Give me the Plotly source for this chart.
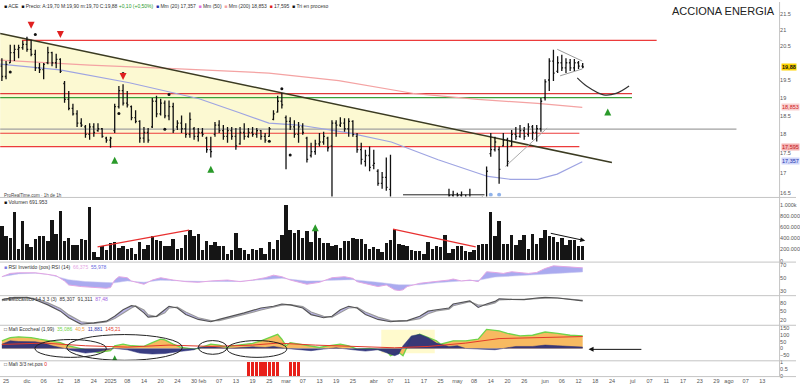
import math
import pandas as pd
import plotly.graph_objects as go

# ------------------------------------------------------------------ data
open_ = [19.90,19.60,20.00,20.30,20.40,20.45,20.55,20.40,20.25,19.85,
         19.80,20.00,20.30,20.00,20.10,19.40,18.95,18.70,18.55,18.30,
         18.20,18.00,18.20,18.10,18.15,17.90,17.85,18.10,18.75,19.20,
         18.85,18.75,18.45,18.35,17.90,18.05,18.20,18.90,18.55,18.85,
         18.50,18.75,18.20,18.30,18.15,18.00,18.15,17.95,18.05,17.90,
         17.60,18.00,18.25,18.10,17.95,18.10,17.95,17.75,18.05,17.95,
         18.05,18.00,18.10,17.95,17.95,18.40,18.60,18.90,18.45,18.35,
         18.20,18.00,18.20,17.90,17.45,17.55,17.75,17.80,17.90,17.70,
         18.30,18.25,18.30,18.15,18.35,17.95,17.60,17.30,17.45,17.20,
         17.05,16.75,16.90,16.60,16.20,16.00,16.10,16.05,15.95,16.05,
         15.90,16.10,15.95,16.05,15.95,16.15,16.05,16.25,16.45,16.20,
         16.45,16.25,16.40,16.30,16.20,16.30,16.40,17.50,17.60,17.60,
         17.70,17.85,17.70,18.00,17.95,18.10,18.00,18.20,18.05,18.15,
         19.00,19.50,20.05,19.75,20.00,19.85,20.00,19.85,20.00,19.90]
high = [20.13,20.05,20.54,20.54,20.54,20.66,20.78,20.69,20.39,19.99,
        19.99,20.48,20.33,20.27,20.13,19.47,19.19,18.83,18.65,18.43,
        18.25,18.30,18.30,18.30,18.17,17.94,17.94,18.83,19.33,19.38,
        19.19,18.78,18.65,18.38,18.20,18.17,18.99,19.05,18.97,18.92,
        18.92,18.86,18.38,18.51,18.30,18.59,18.20,18.17,18.17,17.94,
        17.94,18.33,18.38,18.25,18.20,18.20,18.17,18.20,18.30,18.17,
        18.20,18.17,18.12,18.04,18.20,18.65,19.05,19.13,18.51,18.46,
        18.38,18.33,18.30,17.94,17.78,17.86,18.04,18.07,17.94,18.38,
        18.38,18.46,18.43,18.43,18.38,18.04,17.78,17.60,17.68,17.60,
        17.10,17.03,17.40,17.47,16.38,16.26,16.38,16.26,16.15,16.26,
        16.19,16.26,16.19,16.15,16.26,16.26,16.33,16.62,16.57,16.52,
        16.55,16.47,16.62,16.38,16.38,16.43,17.17,18.04,17.94,17.68,
        18.04,17.91,18.12,18.20,18.25,18.20,18.30,18.25,18.25,18.99,
        19.52,20.13,20.39,20.19,20.24,20.13,20.11,20.11,20.05,19.99]
low = [19.47,19.52,19.99,20.05,20.13,20.39,20.33,20.19,19.76,19.70,
       19.52,19.96,19.90,19.84,19.70,18.86,18.65,18.51,18.20,18.20,
       17.91,17.86,17.94,18.07,17.91,17.78,17.65,18.04,18.70,18.78,
       18.73,18.38,18.30,17.78,17.78,17.78,18.17,18.46,18.51,18.43,
       18.38,18.04,18.12,18.04,17.91,17.91,17.86,17.81,17.94,17.52,
       17.40,17.94,18.04,17.86,17.78,17.86,17.60,17.73,17.86,17.91,
       17.94,17.91,17.86,17.78,17.94,18.38,18.59,18.70,17.10,18.12,
       17.91,17.78,17.99,17.27,17.40,17.47,17.68,17.73,17.55,16.30,
       17.94,18.20,18.07,17.94,17.94,17.52,17.22,17.17,17.05,17.10,
       16.69,16.62,16.57,15.82,15.82,15.71,15.93,15.82,15.71,15.82,
       15.75,15.82,15.82,15.75,15.88,15.93,15.97,16.04,16.04,16.11,
       16.15,16.11,16.19,16.04,16.11,16.15,16.26,17.42,17.55,16.74,
       17.68,17.17,17.68,17.86,17.91,17.86,17.94,17.86,17.81,18.07,
       18.92,19.19,19.47,19.70,19.76,19.70,19.76,19.76,19.82,19.84]
close = [19.60,19.95,20.30,20.40,20.45,20.55,20.40,20.25,19.85,19.80,
         19.95,20.30,20.00,20.10,19.75,18.95,18.70,18.55,18.30,18.25,
         18.00,18.20,18.05,18.15,17.95,17.85,17.90,18.75,19.20,18.85,
         18.80,18.45,18.35,17.90,18.05,17.85,18.90,18.55,18.85,18.50,
         18.75,18.10,18.30,18.15,18.00,18.40,17.95,18.05,18.00,17.60,
         17.55,18.25,18.10,17.95,18.10,17.95,17.70,18.05,17.95,18.05,
         18.00,18.10,17.95,17.85,18.15,18.55,18.90,18.80,18.35,18.20,
         18.00,18.20,18.05,17.35,17.55,17.75,17.80,17.95,17.65,18.30,
         18.25,18.30,18.15,18.35,18.00,17.60,17.35,17.45,17.15,17.25,
         16.75,16.90,16.65,16.20,16.00,16.10,16.05,15.95,16.05,15.90,
         16.10,15.95,16.05,15.90,16.15,16.00,16.25,16.45,16.20,16.45,
         16.25,16.40,16.30,16.20,16.30,16.35,17.05,17.60,17.80,17.10,
         17.85,17.30,18.00,17.95,18.10,17.95,18.20,18.05,18.15,18.90,
         19.45,20.05,19.70,20.00,19.85,20.00,19.85,20.00,19.90,19.88]
volume = [610000,430000,410000,880000,210000,710000,300000,230000,380000,430000,
          430000,340000,720000,480000,890000,350000,410000,280000,280000,380000,
          360000,960000,150000,50000,260000,190000,310000,320000,220000,250000,
          200000,220000,120000,320000,200000,270000,430000,360000,350000,260000,
          260000,380000,200000,220000,450000,540000,430000,470000,190000,350000,
          280000,320000,260000,250000,120000,190000,500000,220000,190000,110000,
          200000,180000,220000,120000,320000,200000,370000,460000,990000,550000,
          500000,540000,400000,520000,330000,520000,410000,310000,310000,260000,
          280000,220000,350000,350000,400000,380000,380000,300000,210000,240000,
          200000,150000,310000,370000,560000,300000,280000,260000,180000,170000,
          170000,110000,320000,200000,260000,240000,460000,130000,200000,260000,
          260000,170000,150000,190000,280000,300000,300000,870000,430000,710000,
          300000,300000,460000,280000,360000,450000,200000,470000,300000,400000,
          540000,430000,420000,320000,400000,280000,370000,370000,260000,260000]

# moving averages (knots: bar index, price)
ma_pink_idx = [-0.4, 21, 42.5, 63.9, 80.6, 98.9, 113.9, 128.2, 138.9]
ma_pink_val = [20.08, 19.93, 19.82, 19.70, 19.48, 19.11, 18.95, 18.84, 18.73]
ma_blue_idx = [-0.4, 13.9, 30.5, 47.2, 56.7, 63.9, 71, 83, 93.2, 104.4, 116.3, 121.7, 128.2, 132.9, 138.9]
ma_blue_val = [19.96, 19.79, 19.42, 18.97, 18.59, 18.30, 18.25, 18.04, 17.80, 17.34, 16.92, 16.85, 16.85, 16.98, 17.29]

# drawn objects on the price panel
trend_idx = [-0.4, 146.0]
trend_val = [20.88, 17.27]
zone_idx = [-0.4, 128.2, -0.4]
zone_val = [20.88, 17.68, 17.68]
hlines = [  # (from idx, to idx, price, colour)
    (4.8, 156.7, 20.67, "#ec3b3b"),
    (-0.4, 150.8, 19.11, "#e03a3a"),
    (-0.4, 150.8, 19.00, "#3aa03a"),
    (-0.4, 175.8, 18.14, "#a0a0a0"),
    (-0.4, 138.2, 18.03, "#ec3b3b"),
    (-0.4, 138.2, 17.68, "#ec3b3b"),
]
arc_idx = [137.7, 140.0, 144.0, 147.0, 150.1]
arc_val = [19.56, 19.32, 19.08, 19.12, 19.33]
tri_up_idx, tri_up_val = [132.9, 138.9], [20.40, 20.05]
tri_lo_idx, tri_lo_val = [133.6, 138.9], [19.62, 19.82]
chan_idx, chan_val = [120.5, 130.5], [17.17, 18.17]
base_idx, base_val = [96.0, 115.5], [16.47, 16.47]

dots_idx = [2, 8, 28, 39, 40, 64, 67, 69, 29]
dots_val = [19.73, 20.85, 18.56, 18.14, 19.09, 17.82, 19.25, 17.46, 19.69]
red_arrow_idx = [7, 14, 29]
red_arrow_val = [21.03, 20.74, 19.50]
green_arrow_idx = [27, 50, 145]
green_arrow_val = [17.42, 17.19, 18.70]
blue_mark_idx = [117, 119]
blue_mark_val = [16.47, 16.47]

price_ticks = [16.5, 17, 17.5, 18, 18.5, 19, 19.5, 20.5, 21, 21.5]

# volume drawings
vol_red1_idx, vol_red1_val = [22.9, 44.8], [250000, 550000]
vol_red2_idx, vol_red2_val = [93.6, 113.4], [570000, 250000]
vol_ticks = [0, 200000, 400000, 600000, 800000, 1000000]
vol_ticktext = ["0", "200.000", "400.000", "600.000", "800.000", "1.000k"]

# RSI panel
rsi_idx = [0,2,4,8,11,13,15,16,19,22,25,26,27,28,30,31,34,36,38,41,44,47,50,54,57,60,63,65,67,69,
           73,76,79,82,84,85,88,90,92,94,95,96,97,100,102,104,107,108,110,112,114,115,116,118,120,
           122,124,126,128,130,132,135,137,139]
rsi_val = [52.6,57.7,58.7,58.7,56.2,54.1,45.9,39.7,37.2,36.2,34.6,35.6,47.4,52.6,51.0,45.9,40.8,47.4,
           51.0,47.4,44.9,43.8,46.0,47.4,44.9,47.4,51.0,55.0,52.6,47.4,40.8,43.8,51.0,52.6,50.0,44.9,
           40.8,37.2,39.7,32.1,31.0,32.1,37.2,42.3,43.8,44.9,47.4,49.0,45.9,47.4,44.9,52.6,60.3,59.2,
           57.7,60.3,59.2,57.7,59.2,65.4,69.5,68.0,66.9,66.4]
rsi_ma_idx = [0,4,8,11,13,16,20,27,30,34,38,44,50,57,63,67,73,79,84,90,95,100,104,110,114,118,124,130,139]
rsi_ma_val = [52.6,57.0,58.0,56.0,53.0,48.0,45.0,43.0,46.0,44.0,47.0,46.0,45.0,45.5,48.0,50.0,46.0,47.0,
              48.0,44.0,40.0,40.0,43.0,46.0,47.0,52.0,54.0,56.0,60.0]

# Stochastic panel
stoch_idx = [0,3,6,8,11,14,16,19,22,25,27,29,31,32,34,35,37,39,40,42,44,47,50,52,55,58,62,65,67,69,
             72,74,77,79,81,83,85,87,90,93,95,97,100,102,104,107,108,110,112,114,116,118,119,122,125,
             128,130,133,136,139]
stoch_k = [91,99,99,91,73,51,28,5,10,16,33,56,70,68,45,30,33,56,68,62,39,22,14,22,33,45,62,68,76,73,
           62,39,28,33,56,68,62,39,22,14,17,18,33,51,56,62,76,82,87,64,76,85,94,92,91,97,99,97,91,87]
stoch_d = [88,95,99,95,80,60,38,14,8,13,25,45,62,69,55,38,32,45,62,65,48,28,18,18,28,40,55,65,72,74,
           67,48,33,30,45,62,64,48,30,18,15,17,25,42,52,58,70,78,84,72,72,80,90,92,92,95,97,97,93,89]

# Oscillator panel
osc_top_idx = [0,2,4,7,9,12,14,16,19,21,23,26,27,29,31,34,36,38,39,41,43,46,47,49,50,52,54,55,58,60,
               62,64,66,67,68,69,71,73,76,78,81,83,85,88,90,92,93,95,96,98,100,101,104,105,108,111,114,
               116,119,121,124,127,130,133,136,139]
osc_top_val = [57,81,87,81,69,57,44,20,-5,-17,-30,-17,20,32,20,15,44,69,64,32,7,-5,0,20,32,25,7,20,32,38,
               57,81,106,69,20,44,32,20,7,20,32,20,-5,0,-10,-17,-54,-30,-54,81,106,94,57,32,57,57,69,
               143,131,113,94,99,123,113,99,94]
osc_navy_idx = [0,2,4,8,10,12,15,17,20,23,26,27,30,33,36,39,42,46,47,50,54,57,60,63,65,68,71,74,77,80,
                84,87,90,92,94,95,96,98,100,102,104,107,109,111,115,118,120,123,127,130,133,136,139]
osc_navy_val = [32,57,52,50,40,20,0,-17,-35,-25,-5,0,-10,-35,-42,-38,-25,-10,7,15,0,7,12,7,15,0,-10,-17,
                -5,5,-10,-20,-10,-30,-54,-42,20,94,106,81,40,15,20,0,-5,-10,0,15,15,25,20,15,10]
osc_red_idx = [0,10,20,30,40,50,60,66,75,85,94,102,111,119,127,139]
osc_red_val = [30,40,20,10,25,15,25,40,25,15,5,15,40,74,81,89]
ellipses = [(7.9, 25.0, -67, 67), (15.5, 43.2, -89, 104), (47.0, 53.9, -44, 59), (53.9, 68.2, -67, 59)]

# bottom panel signal bars
signal_idx = [59, 60, 61, 62, 63, 64, 65, 66, 69, 70, 71]
signal_val = [1] * len(signal_idx)

# ------------------------------------------------------------------ axis dates
holidays = {pd.Timestamp(d) for d in ["2024-12-25", "2024-12-26", "2025-01-01",
                                     "2025-04-18", "2025-04-21", "2025-05-01"]}
days = [d for d in pd.bdate_range("2024-11-22", "2025-09-30") if d not in holidays]
N_AXIS = 187
days = days[:N_AXIS]
meses = ["ene", "feb", "mar", "abr", "may", "jun", "jul", "ago", "sep", "oct", "nov", "dic"]
mstarts = [i for i in range(1, N_AXIS) if days[i].month != days[i - 1].month]
bounds = [-3] + mstarts + [N_AXIS + 10]
tickvals, ticktext = [], []
for a, b in zip(bounds[:-1], bounds[1:]):
    if a >= 0:
        tickvals.append(a)
        ticktext.append(str(days[a].year) if days[a].month == 1 else meses[days[a].month - 1])
    k = a + 4
    while k <= b - 2 and k < N_AXIS - 1:
        tickvals.append(k)
        ticktext.append(f"{days[k].day:02d}")
        k += 4

# ------------------------------------------------------------------ figure
W, H = 800, 387
def px(x):
    return x / W
def py(y):
    return 1 - y / H

idx = list(range(len(close)))
fig = go.Figure()

# price panel: background drawings on y, bars and signals on overlaying y7
fig.add_trace(go.Scatter(x=zone_idx, y=zone_val, fill="toself", fillcolor="#fcf9d2",
                         line=dict(width=0), mode="lines", hoverinfo="skip"))
for x0, x1, v, c in hlines:
    fig.add_trace(go.Scatter(x=[x0, x1], y=[v, v], mode="lines", line=dict(color=c, width=1.2)))
fig.add_trace(go.Scatter(x=ma_pink_idx, y=ma_pink_val, mode="lines", line=dict(color="#f4a3a3", width=1.2)))
fig.add_trace(go.Scatter(x=ma_blue_idx, y=ma_blue_val, mode="lines", line=dict(color="#9ea4e2", width=1.2)))
fig.add_trace(go.Scatter(x=trend_idx, y=trend_val, mode="lines", line=dict(color="#3b3b22", width=1.5)))
fig.add_trace(go.Scatter(x=chan_idx, y=chan_val, mode="lines", line=dict(color="#aaaaaa", width=1)))
fig.add_trace(go.Scatter(x=tri_up_idx, y=tri_up_val, mode="lines", line=dict(color="#999999", width=1)))
fig.add_trace(go.Scatter(x=tri_lo_idx, y=tri_lo_val, mode="lines", line=dict(color="#999999", width=1)))
fig.add_trace(go.Scatter(x=arc_idx, y=arc_val, mode="lines", line=dict(color="#333333", width=1.2, shape="spline")))
fig.add_trace(go.Scatter(x=base_idx, y=base_val, mode="lines", line=dict(color="#222222", width=1)))

fig.add_trace(go.Ohlc(x=idx, open=open_, high=high, low=low, close=close, yaxis="y7",
                      increasing=dict(line=dict(color="#111111", width=1.3)),
                      decreasing=dict(line=dict(color="#111111", width=1.3)), tickwidth=0.3))
fig.add_trace(go.Scatter(x=dots_idx, y=dots_val, mode="markers", marker=dict(color="#111", size=3), yaxis="y7"))
fig.add_trace(go.Scatter(x=red_arrow_idx, y=red_arrow_val, mode="markers", yaxis="y7",
                         marker=dict(color="#e02020", size=7, symbol="arrow-down")))
fig.add_trace(go.Scatter(x=green_arrow_idx, y=green_arrow_val, mode="markers", yaxis="y7",
                         marker=dict(color="#2a9a2a", size=7, symbol="arrow-up")))
fig.add_trace(go.Scatter(x=blue_mark_idx, y=blue_mark_val, mode="markers", yaxis="y7",
                         marker=dict(color="#8fb2ea", size=4, symbol="circle")))

# volume panel
fig.add_trace(go.Bar(x=idx, y=volume, marker=dict(color="#151515", line=dict(width=0)), width=0.82,
                     yaxis="y2"))
fig.add_trace(go.Scatter(x=vol_red1_idx, y=vol_red1_val, mode="lines", line=dict(color="#e83030", width=1.2), yaxis="y2"))
fig.add_trace(go.Scatter(x=vol_red2_idx, y=vol_red2_val, mode="lines", line=dict(color="#e83030", width=1.2), yaxis="y2"))
fig.add_trace(go.Scatter(x=[75], y=[660000], mode="markers", marker=dict(color="#2a9a2a", size=7, symbol="arrow-up"), yaxis="y2"))

# RSI panel
fig.add_trace(go.Scatter(x=rsi_ma_idx, y=rsi_ma_val, mode="lines", line=dict(color="#c9c9f0", width=0.5), yaxis="y3"))
fig.add_trace(go.Scatter(x=rsi_idx, y=rsi_val, mode="lines", line=dict(color="#e3a6e3", width=1),
                         fill="tonexty", fillcolor="rgba(125,125,230,0.65)", yaxis="y3"))

# Stochastic panel
fig.add_trace(go.Scatter(x=stoch_idx, y=stoch_d, mode="lines", line=dict(color="#9a9a9a", width=1.2), yaxis="y4"))
fig.add_trace(go.Scatter(x=stoch_idx, y=stoch_k, mode="lines", line=dict(color="#555555", width=1.2),
                         fill="tonexty", fillcolor="rgba(140,130,220,0.6)", yaxis="y4"))

# Oscillator panel
fig.add_trace(go.Scatter(x=osc_top_idx, y=osc_top_val, mode="lines", line=dict(color="#6fd44a", width=1.3),
                         fill="tozeroy", fillcolor="rgba(246,178,80,0.9)", yaxis="y5"))
fig.add_trace(go.Scatter(x=osc_navy_idx, y=osc_navy_val, mode="lines", line=dict(color="#2b2f78", width=0.5),
                         fill="tozeroy", fillcolor="rgba(40,45,120,0.92)", yaxis="y5"))
fig.add_trace(go.Scatter(x=osc_red_idx, y=osc_red_val, mode="lines", line=dict(color="#e23a2a", width=1), yaxis="y5"))
fig.add_trace(go.Scatter(x=[27], y=[-52], mode="markers", marker=dict(color="#2a9a2a", size=6, symbol="arrow-up"), yaxis="y5"))

# bottom panel
fig.add_trace(go.Bar(x=signal_idx, y=signal_val, marker=dict(color="#e8201a", line=dict(width=0)), width=0.8, yaxis="y6"))

# ------------------------------------------------------------------ layout
tickfont = dict(size=5.5, color="#555", family="Liberation Sans, Arial")
common_y = dict(side="right", anchor="x", showgrid=False, zeroline=False, showline=False,
                ticks="", tickfont=tickfont)
price_range = [math.log10(16.43), math.log10(21.87)]
fig.update_layout(
    width=W, height=H, margin=dict(l=0, r=0, t=0, b=0),
    paper_bgcolor="white", plot_bgcolor="white", showlegend=False, bargap=0,
    font=dict(family="Liberation Sans, Arial"),
    xaxis=dict(domain=[0, px(783)], range=[-0.45, 186], anchor="y6", showgrid=False, zeroline=False,
               showline=False, ticks="", tickvals=tickvals, ticktext=ticktext, tickfont=tickfont,
               tickangle=0, rangeslider=dict(visible=False)),
    yaxis=dict(domain=[py(197), py(0)], type="log", range=price_range,
               tickvals=price_ticks, ticktext=[f"{v:g}" for v in price_ticks], **common_y),
    yaxis7=dict(overlaying="y", type="log", range=price_range, visible=False, anchor="x", side="right",
                showgrid=False, zeroline=False),
    yaxis2=dict(domain=[py(263), py(199)], range=[-18000, 1125000], tickvals=vol_ticks,
                ticktext=vol_ticktext, **common_y),
    yaxis3=dict(domain=[py(297), py(264)], range=[23.8, 74.6], tickvals=[30, 50, 70], **common_y),
    yaxis4=dict(domain=[py(327), py(298)], range=[3.4, 103.4], tickvals=[20, 50, 80], **common_y),
    yaxis5=dict(domain=[py(363), py(328)], range=[-89, 170], tickvals=[-50, 0, 50, 100, 150], **common_y),
    yaxis6=dict(domain=[py(379), py(364)], range=[0, 1.07], tickvals=[0, 0.5, 1], **common_y),
)

shapes = []
for yy in [198, 263.5, 297.5, 327.5, 363.5, 379.5]:
    shapes.append(dict(type="line", xref="paper", yref="paper", x0=0, x1=1, y0=py(yy), y1=py(yy),
                       line=dict(color="#c4c4c4", width=1)))
shapes.append(dict(type="line", xref="paper", yref="paper", x0=px(783.5), x1=px(783.5), y0=py(380), y1=1,
                   line=dict(color="#c4c4c4", width=1)))
shapes.append(dict(type="rect", xref="x", yref="y5", x0=90.8, x1=103.6, y0=-37, y1=141,
                   fillcolor="rgba(255,249,200,0.9)", line=dict(width=0), layer="below"))
for x0, x1, y0, y1 in ellipses:
    shapes.append(dict(type="circle", xref="x", yref="y5", x0=x0, x1=x1, y0=y0, y1=y1,
                       line=dict(color="#222", width=1)))
fig.update_layout(shapes=shapes)

small = dict(size=5, color="#333", family="Liberation Sans, Arial")
ann = []
def text(x, y, t, **kw):
    d = dict(xref="paper", yref="paper", x=px(x), y=py(y), text=t, showarrow=False,
             xanchor="left", yanchor="middle", font=small)
    d.update(kw)
    ann.append(d)

text(2, 4, "<span style='color:#111'>■</span> ACE  <span style='color:#111'>■</span> Precio: A:19,70 M:19,90 m:19,70 C:19,88 "
           "<span style='color:#2a9a2a'>+0,10 (+0,50%)</span>  <span style='color:#2233aa'>■</span> Mm (20) 17,357  "
           "<span style='color:#e070e0'>■</span> Mm (50)  <span style='color:#f4a3a3'>■</span> Mm (200) 18,853  "
           "<span style='color:#e02020'>■</span> 17,595  <span style='color:#111'>■</span> Tri en proceso")
text(781, 9, "ACCIONA ENERGIA", xanchor="right", font=dict(size=11, color="#222", family="Liberation Sans, Arial"))
text(2, 196, "ProRealTime.com · 1h de 1h", font=dict(size=4.5, color="#444", family="Liberation Sans, Arial"))
text(2, 203, "<span style='color:#111'>■</span> Volumen 691.953")
text(2, 268, "<span style='color:#7b7be0'>■</span> RSI Invertido (pos) RSI (14)  "
             "<span style='color:#e3a6e3'>66,375</span>  <span style='color:#6a6ae0'>55,978</span>")
text(2, 301, "□ Estocástico 14 3 3 (3)  85,307  91,311  <span style='color:#a060e0'>87,48</span>")
text(2, 331, "□ Mafi Ecocheal (1,99)  <span style='color:#6fd44a'>35,086</span>  "
             "<span style='color:#f0a040'>40,5</span>  <span style='color:#3333aa'>11,881</span>  "
             "<span style='color:#e23a2a'>145,21</span>")
text(2, 367, "□ Mafi 3/3 ret.pos <span style='color:#e8201a'>0</span>")

def label(yv, t, bg, col):
    ann.append(dict(xref="paper", yref="y", x=px(785), y=math.log10(yv), text=t, showarrow=False,
                    xanchor="left", yanchor="middle", bgcolor=bg, borderpad=0,
                    font=dict(size=5.5, color=col, family="Liberation Sans, Arial")))

label(19.88, "<b>19,88</b>", "#ffd400", "#111")
label(18.73, "18,853", "#f9d0d0", "#d02020")
label(17.66, "17,595", "#f4b0b0", "#c01818")
label(17.30, "17,357", "#d0d6fa", "#2233aa")

ann.append(dict(xref="x", yref="y5", x=140.4, y=-7, ax=153.4, ay=-7, axref="x", ayref="y5", text="",
                showarrow=True, arrowhead=2, arrowsize=1, arrowwidth=1, arrowcolor="#111"))
ann.append(dict(xref="x", yref="y2", x=139.6, y=360000, ax=131.0, ay=500000, axref="x", ayref="y2", text="",
                showarrow=True, arrowhead=2, arrowsize=1, arrowwidth=1, arrowcolor="#111"))
fig.update_layout(annotations=ann)

fig.write_html("out.html")
